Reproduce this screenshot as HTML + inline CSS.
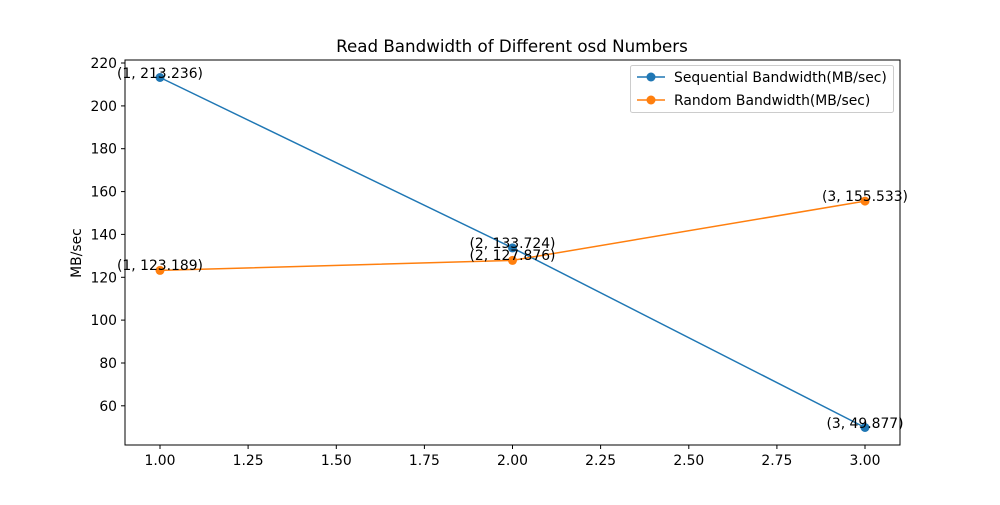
<!DOCTYPE html>
<html><head><meta charset="utf-8"><style>body{margin:0;background:#fff}</style></head><body>
<svg width="1000" height="500" xmlns="http://www.w3.org/2000/svg" font-family="DejaVu Sans, Liberation Sans, sans-serif">
<rect width="1000" height="500" fill="#fff"/>
<text x="512" y="52" font-size="16.7" text-anchor="middle">Read Bandwidth of Different osd Numbers</text>
<g stroke="#000" stroke-width="1">
<line x1="160" y1="445" x2="160" y2="449"/><line x1="248.1" y1="445" x2="248.1" y2="449"/><line x1="336.3" y1="445" x2="336.3" y2="449"/><line x1="424.4" y1="445" x2="424.4" y2="449"/><line x1="512.5" y1="445" x2="512.5" y2="449"/><line x1="600.6" y1="445" x2="600.6" y2="449"/><line x1="688.8" y1="445" x2="688.8" y2="449"/><line x1="776.9" y1="445" x2="776.9" y2="449"/><line x1="865" y1="445" x2="865" y2="449"/>
<line x1="121" y1="63" x2="125" y2="63"/><line x1="121" y1="105.9" x2="125" y2="105.9"/><line x1="121" y1="148.7" x2="125" y2="148.7"/><line x1="121" y1="191.6" x2="125" y2="191.6"/><line x1="121" y1="234.4" x2="125" y2="234.4"/><line x1="121" y1="277.3" x2="125" y2="277.3"/><line x1="121" y1="320.1" x2="125" y2="320.1"/><line x1="121" y1="363" x2="125" y2="363"/><line x1="121" y1="405.8" x2="125" y2="405.8"/>
</g>
<g font-size="13.9" text-anchor="middle">
<text x="160" y="465">1.00</text><text x="248.1" y="465">1.25</text><text x="336.3" y="465">1.50</text><text x="424.4" y="465">1.75</text><text x="512.5" y="465">2.00</text><text x="600.6" y="465">2.25</text><text x="688.8" y="465">2.50</text><text x="776.9" y="465">2.75</text><text x="865" y="465">3.00</text>
</g>
<g font-size="13.9" text-anchor="end">
<text x="117" y="68">220</text><text x="117" y="110.9">200</text><text x="117" y="153.7">180</text><text x="117" y="196.6">160</text><text x="117" y="239.4">140</text><text x="117" y="282.3">120</text><text x="117" y="325.1">100</text><text x="117" y="368">80</text><text x="117" y="410.8">60</text>
</g>
<text x="81" y="253" font-size="13.9" text-anchor="middle" transform="rotate(-90 81 253)">MB/sec</text>
<polyline points="160,77.5 512.5,247.9 865,427.5" fill="none" stroke="#1f77b4" stroke-width="1.5"/>
<polyline points="160,270.4 512.5,260.4 865,201.1" fill="none" stroke="#ff7f0e" stroke-width="1.5"/>
<g fill="#1f77b4"><circle cx="160" cy="77.5" r="4.5"/><circle cx="512.5" cy="247.9" r="4.5"/><circle cx="865" cy="427.5" r="4.5"/></g>
<g fill="#ff7f0e"><circle cx="160" cy="270.4" r="4.5"/><circle cx="512.5" cy="260.4" r="4.5"/><circle cx="865" cy="201.1" r="4.5"/></g>
<g font-size="13.9" text-anchor="middle">
<text x="160" y="78">(1, 213.236)</text><text x="512.5" y="248">(2, 133.724)</text><text x="865" y="428">(3, 49.877)</text>
<text x="160" y="270">(1, 123.189)</text><text x="512.5" y="260">(2, 127.876)</text><text x="865" y="201">(3, 155.533)</text>
</g>
<rect x="125" y="60" width="775" height="385" fill="none" stroke="#000" stroke-width="1"/>
<rect x="630.5" y="65.5" width="263" height="47" fill="#fff" fill-opacity="0.8" stroke="#ccc" rx="2"/>
<line x1="637" y1="77" x2="665" y2="77" stroke="#1f77b4" stroke-width="1.5"/><circle cx="651" cy="77" r="4.5" fill="#1f77b4"/>
<line x1="637" y1="100" x2="665" y2="100" stroke="#ff7f0e" stroke-width="1.5"/><circle cx="651" cy="100" r="4.5" fill="#ff7f0e"/>
<text x="674" y="82" font-size="13.9">Sequential Bandwidth(MB/sec)</text>
<text x="674" y="105" font-size="13.9">Random Bandwidth(MB/sec)</text>
</svg>
</body></html>
